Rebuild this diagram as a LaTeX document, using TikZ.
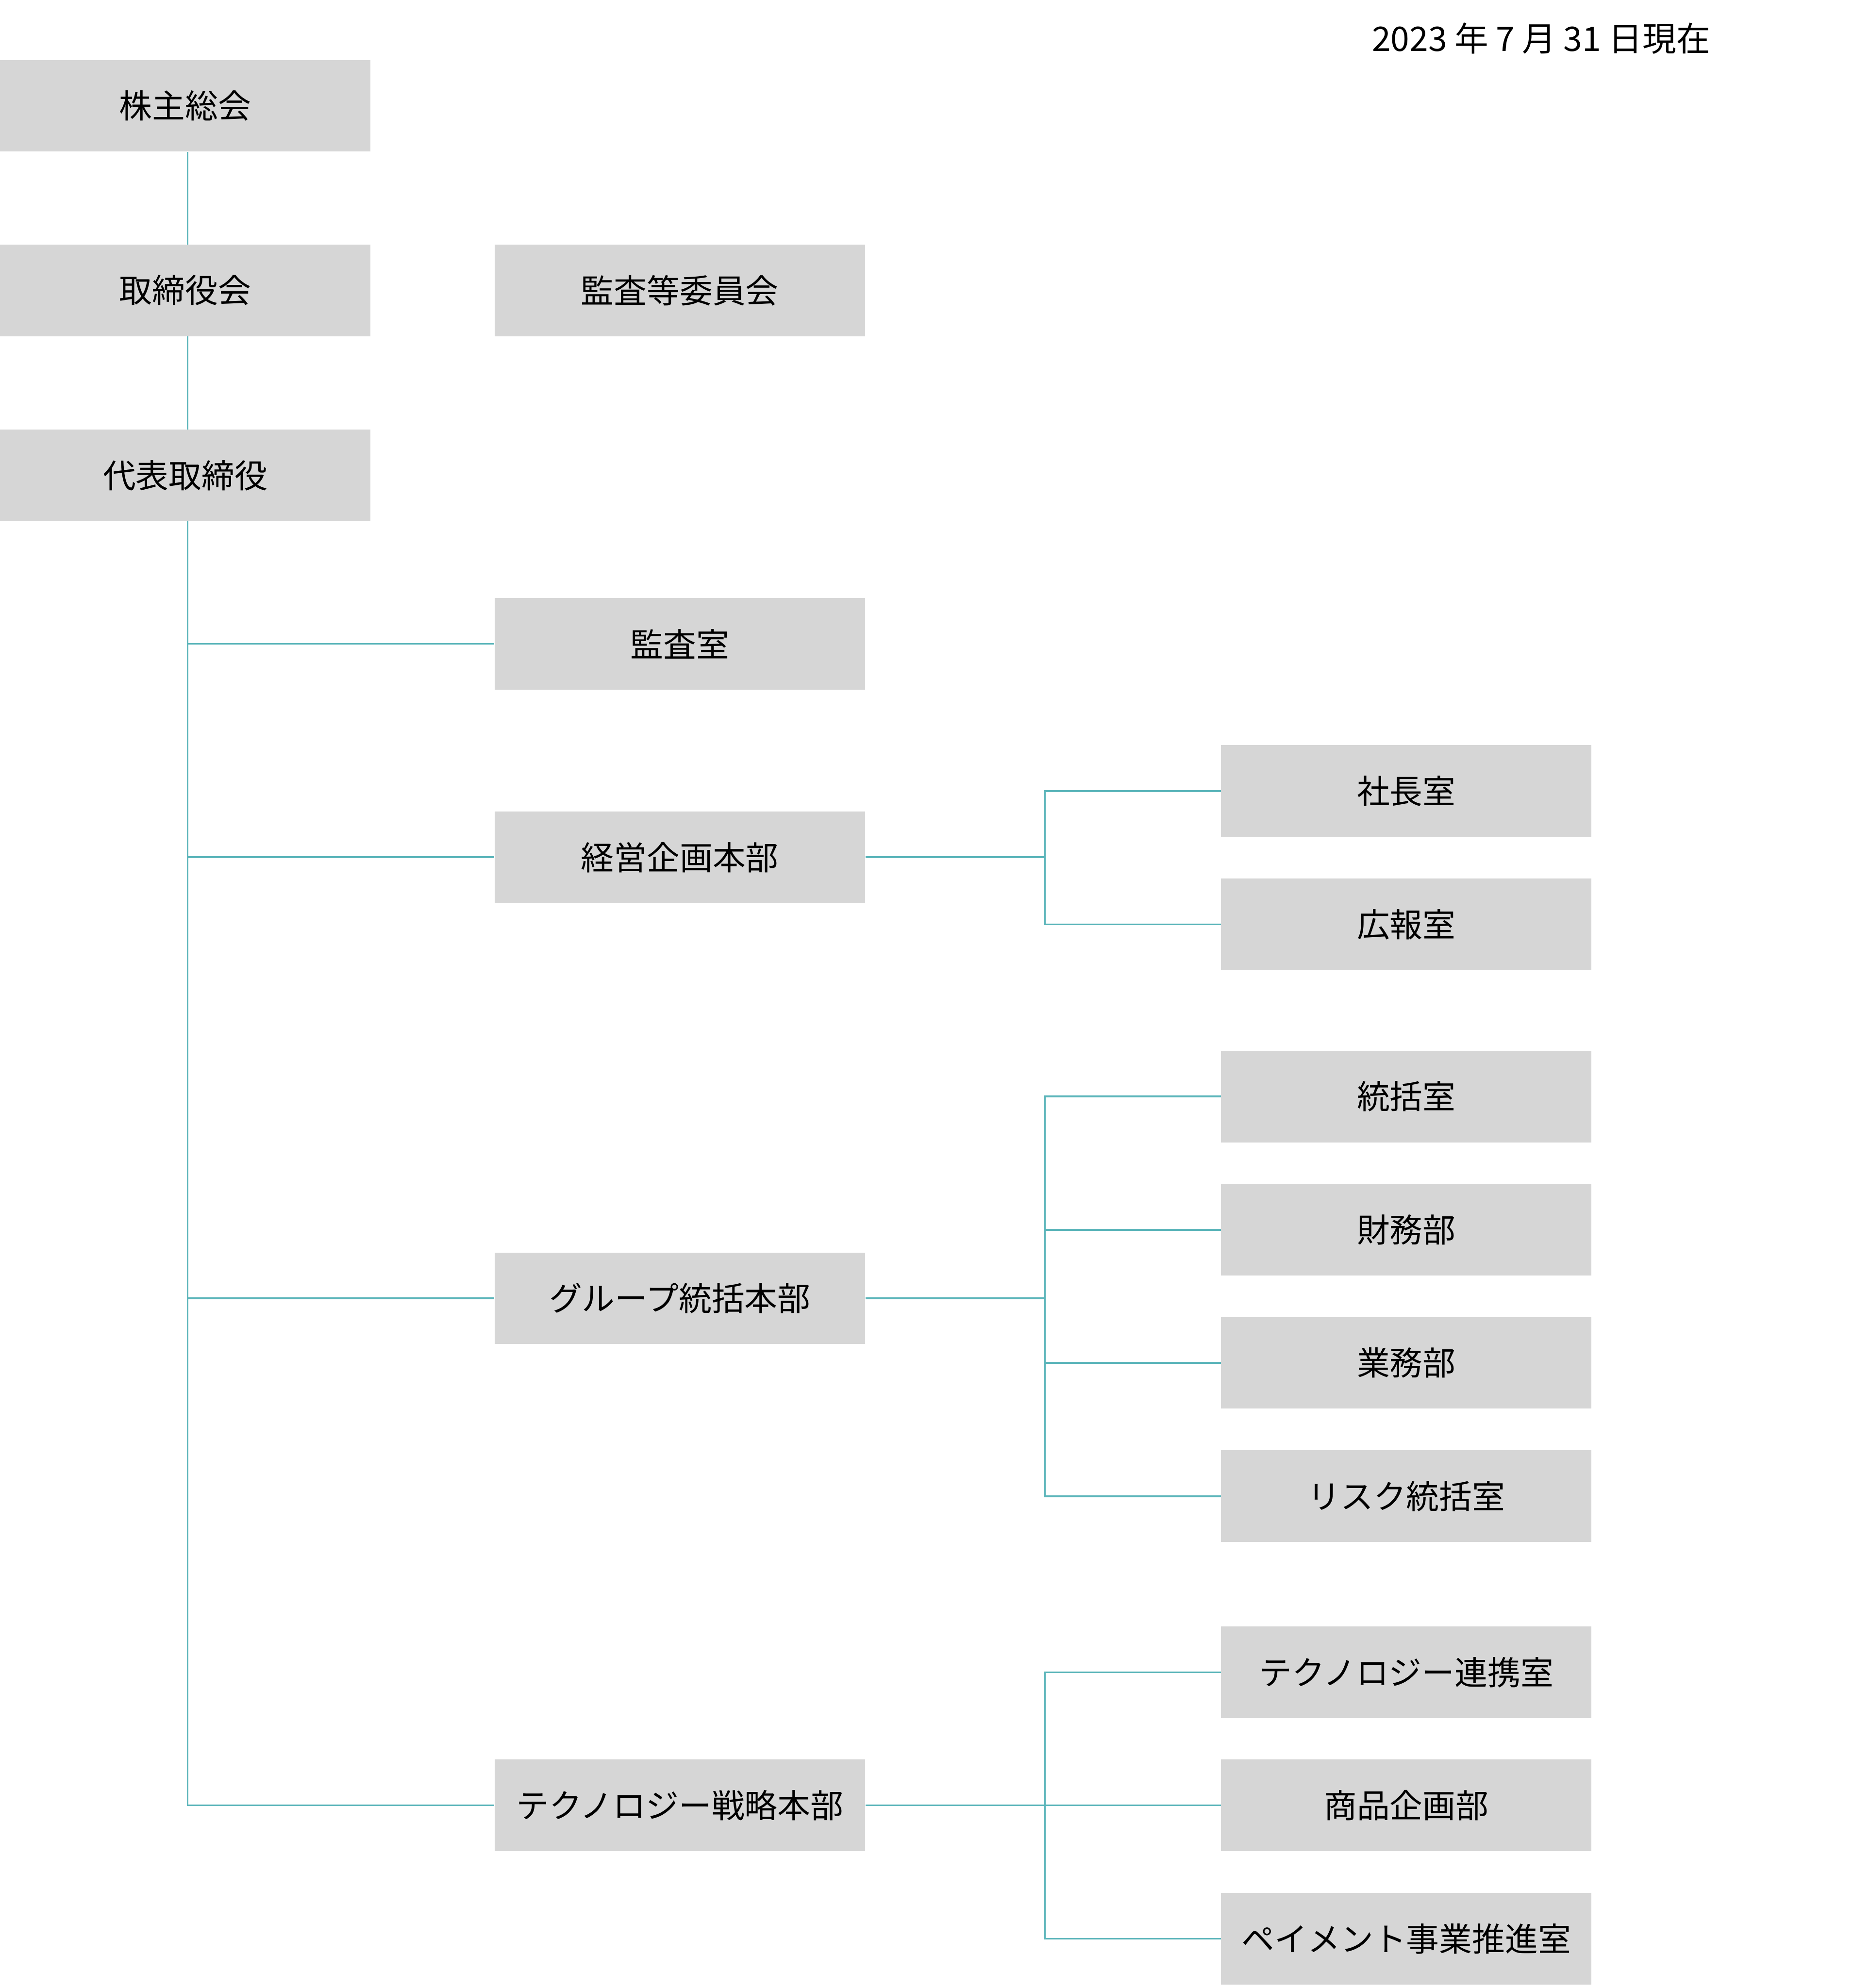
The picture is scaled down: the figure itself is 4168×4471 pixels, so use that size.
\documentclass[tikz,border=0pt]{standalone}
\usepackage{fontspec}
\setmainfont{Noto Sans CJK JP}
\begin{document}
\begin{tikzpicture}[x=0.25pt,y=-0.25pt,
  box/.style={fill=boxgray,draw=none,minimum width=208.25pt,minimum height=51.5pt,inner sep=0pt,font=\fontsize{18.5}{22}\selectfont},
  conn/.style={draw=lineteal,line width=1pt}]
\definecolor{boxgray}{HTML}{D6D6D6}
\definecolor{lineteal}{HTML}{5BB5BA}
\useasboundingbox (0,0) rectangle (4168,4471);
\node[anchor=east,inner sep=0pt,font=\fontsize{19}{23}\selectfont] (date) at (3846,86) {2023 年 7 月 31 日現在};
\node[box] (A) at (416.5,238) {株主総会};
\node[box] (B) at (416.5,653) {取締役会};
\node[box] (C) at (416.5,1069) {代表取締役};
\node[box] (D) at (1528.5,653) {監査等委員会};
\node[box] (E) at (1528.5,1448) {監査室};
\node[box] (F) at (1528.5,1928) {経営企画本部};
\node[box] (G) at (1528.5,2920) {グループ統括本部};
\node[box] (H) at (1528.5,4060) {テクノロジー戦略本部};
\node[box] (R1) at (3162,1779) {社長室};
\node[box] (R2) at (3162,2079) {広報室};
\node[box] (R3) at (3162,2466) {統括室};
\node[box] (R4) at (3162,2766) {財務部};
\node[box] (R5) at (3162,3065) {業務部};
\node[box] (R6) at (3162,3365) {リスク統括室};
\node[box] (R7) at (3162,3761) {テクノロジー連携室};
\node[box] (R8) at (3162,4060) {商品企画部};
\node[box] (R9) at (3162,4360) {ペイメント事業推進室};
\coordinate (a1) at (422,342);
\coordinate (b0) at (422,550);
\coordinate (b1) at (422,756);
\coordinate (c0) at (422,966);
\coordinate (c1) at (422,1172);
\draw[conn] (a1) -- (b0);
\draw[conn] (b1) -- (c0);
\draw[conn] (c1) -- (c1 |- H.west) -- (H.west);
\draw[conn] (c1 |- E.west) -- (E.west);
\draw[conn] (c1 |- F.west) -- (F.west);
\draw[conn] (c1 |- G.west) -- (G.west);
% mid bus
\coordinate (m1) at (2349,1779);
\coordinate (m2) at (2349,2079);
\draw[conn] (F.east) -- (2349,1928);
\draw[conn] (R1.west) -- (m1) -- (m2) -- (R2.west);
\coordinate (g1) at (2349,2466);
\coordinate (g6) at (2349,3365);
\draw[conn] (G.east) -- (2349,2920);
\draw[conn] (R3.west) -- (g1) -- (g6) -- (R6.west);
\draw[conn] (R4.west) -- (2349,2766);
\draw[conn] (R5.west) -- (2349,3065);
\coordinate (t1) at (2349,3761);
\coordinate (t9) at (2349,4360);
\draw[conn] (H.east) -- (R8.west);
\draw[conn] (R7.west) -- (t1) -- (t9) -- (R9.west);
\end{tikzpicture}
\end{document}
